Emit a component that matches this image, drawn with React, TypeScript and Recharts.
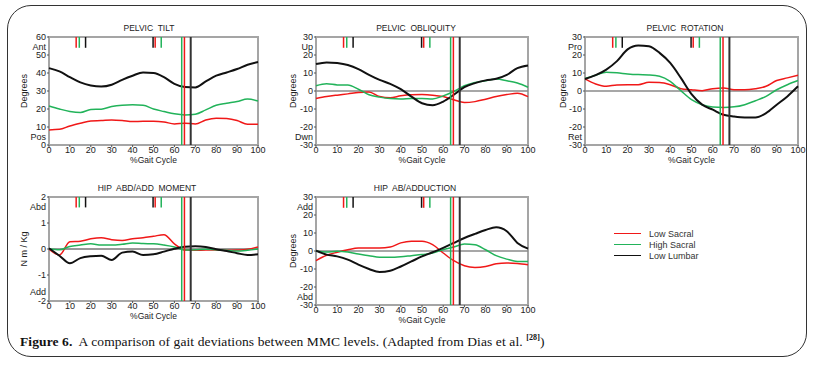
import React from "react";
import { LineChart, Line, XAxis, YAxis, ReferenceLine, ReferenceArea } from "recharts";

// % gait cycle sample points
const pct = [0, 5, 10, 15, 20, 25, 30, 35, 40, 45, 50, 55, 60, 65, 70, 75, 80, 85, 90, 95, 100];

// pelvic tilt
const tiltLowSacral = [8.4, 8.7, 10.6, 12.1, 13.4, 13.6, 13.9, 13.6, 13.0, 13.2, 13.2, 12.8, 11.7, 12.1, 11.7, 13.9, 14.9, 14.7, 13.6, 11.5, 11.5];
const tiltHighSacral = [21.7, 20.0, 18.6, 18.0, 19.7, 19.9, 21.4, 22.1, 22.3, 22.1, 20.0, 18.6, 17.3, 16.7, 17.1, 19.5, 22.1, 23.2, 24.2, 25.5, 24.5];
const tiltLowLumbar = [42.7, 40.9, 37.7, 34.8, 33.1, 32.5, 33.5, 36.2, 38.5, 40.3, 40.0, 37.7, 34.0, 32.2, 32.0, 35.3, 38.5, 40.3, 42.2, 44.6, 46.1];

// pelvic obliquity
const obliqLowSacral = [-4.2, -3.1, -2.3, -1.6, -0.8, -0.5, -3.1, -3.8, -2.7, -2.1, -2.0, -2.3, -3.1, -4.9, -6.4, -5.9, -4.6, -3.1, -2.0, -1.2, -3.1];
const obliqHighSacral = [2.9, 4.0, 3.4, 3.3, 1.0, -2.1, -3.4, -4.2, -4.4, -4.2, -4.2, -4.4, -2.7, -0.3, 2.9, 4.7, 5.7, 6.6, 5.7, 4.4, 2.1];
const obliqLowLumbar = [15.0, 15.9, 15.5, 14.4, 12.2, 9.0, 6.2, 4.0, 1.0, -3.1, -6.8, -7.9, -5.9, -2.1, 2.1, 4.4, 5.9, 6.8, 9.0, 12.7, 14.2];

// pelvic rotation
const rotLowSacral = [6.7, 3.9, 2.6, 3.4, 3.5, 3.5, 4.8, 4.7, 3.5, 1.3, 0.7, 0.2, 1.3, 1.7, 0.7, 0.7, 1.3, 2.6, 5.8, 7.3, 8.8];
const rotHighSacral = [6.9, 8.8, 10.4, 10.1, 9.5, 9.1, 8.9, 8.2, 5.4, 0.2, -4.8, -7.6, -8.9, -9.1, -8.8, -7.6, -5.4, -3.0, 0.7, 3.5, 5.8];
const rotLowLumbar = [6.7, 8.8, 11.9, 16.6, 23.1, 25.3, 24.8, 21.2, 15.6, 7.3, -1.7, -7.6, -10.4, -13.2, -14.2, -14.7, -14.7, -12.3, -7.6, -3.0, 2.6];

// hip abd/add moment
const momLowSacral = [-0.01, -0.23, 0.28, 0.3, 0.39, 0.43, 0.36, 0.33, 0.39, 0.43, 0.49, 0.55, 0.2, -0.04, -0.05, -0.04, -0.04, -0.05, -0.04, -0.01, 0.08];
const momHighSacral = [0.01, -0.03, 0.1, 0.15, 0.2, 0.15, 0.15, 0.18, 0.23, 0.21, 0.2, 0.15, 0.08, -0.04, -0.03, -0.01, -0.03, -0.05, -0.08, -0.05, 0.0];
const momLowLumbar = [0.03, -0.26, -0.55, -0.35, -0.28, -0.26, -0.42, -0.14, -0.1, -0.23, -0.2, -0.1, 0.01, 0.09, 0.11, 0.08, -0.01, -0.08, -0.16, -0.23, -0.2];

// hip ab/adduction
const hipLowSacral = [-5.4, -2.4, -0.7, 0.7, 1.7, 1.7, 1.7, 2.2, 4.5, 5.4, 5.4, 3.5, -1.1, -5.4, -8.2, -9.1, -8.6, -7.1, -6.7, -6.9, -7.6];
const hipHighSacral = [-0.2, -0.6, -0.2, -0.6, -1.7, -2.6, -3.5, -3.5, -3.2, -2.6, -2.0, -1.1, 0.7, 2.2, 3.9, 3.5, 0.7, -2.6, -4.5, -5.8, -5.8];
const hipLowLumbar = [0.2, -2.0, -3.0, -4.8, -7.6, -10.0, -11.7, -11.0, -8.6, -5.8, -3.0, -0.7, 1.7, 4.5, 7.2, 9.5, 11.7, 13.2, 11.0, 4.5, 1.3];

// gait events per group: low sacral, high sacral, low lumbar
const oppToeOff = [13, 14.5, 17.5];
const oppFootContact = [50.8, 53.7, 49.8];
const toeOff = [64.8, 63.5, 67.8];

const xTicks = [0, 10, 20, 30, 40, 50, 60, 70, 80, 90, 100];
const degTicks = [-30, -20, -10, 0, 10, 20, 30];
const tiltTicks = [0, 10, 20, 30, 40, 50, 60];
const momTicks = [-2, -1, 0, 1, 2];

const groups = ["Low Sacral", "High Sacral", "Low Lumbar"];
const COLORS = ["#f01818", "#22b35a", "#111111"];
const WIDTHS = [1.5, 1.5, 2];

const FONT = "Arial, 'Liberation Sans', sans-serif";

const rows = (a: number[], b: number[], c: number[]) =>
  pct.map((p, i) => ({ pct: p, ls: a[i], hs: b[i], ll: c[i] }));

type Extra = Record<number, [string, number]>;

const YTick = (props: any) => {
  const { x, y, payload, extra } = props;
  const e: [string, number] | undefined = extra[payload.value];
  return (
    <g>
      <text x={x} y={y} dy={3} textAnchor="end" fontSize={9} fill="#222" fontFamily={FONT}>
        {payload.value}
      </text>
      {e && (
        <text x={x} y={y + e[1]} dy={3} textAnchor="end" fontSize={9} fill="#222" fontFamily={FONT}>
          {e[0]}
        </text>
      )}
    </g>
  );
};

interface PanelProps {
  left: number;
  top: number;
  data: any[];
  domain: [number, number];
  ticks: number[];
  extra: Extra;
  yLabel: string;
  title: string;
  titleX: number;
  zeroLine: boolean;
}

const Panel = (p: PanelProps) => {
  const [lo, hi] = p.domain;
  const shortBottom = hi - (hi - lo) * 0.1;
  const keys = ["ls", "hs", "ll"];
  return (
    <div style={{ position: "absolute", left: p.left, top: p.top }}>
      <div
        style={{
          position: "absolute",
          left: p.titleX - 80,
          width: 160,
          top: 3,
          textAlign: "center",
          fontFamily: FONT,
          fontSize: 8.5,
          color: "#222",
          whiteSpace: "pre",
        }}
      >
        {p.title}
      </div>
      <LineChart width={270} height={hi === 2 ? 141 : 145} data={p.data} margin={{ top: 17, right: 12, left: 0, bottom: 0 }}>
        <XAxis
          dataKey="pct"
          type="number"
          domain={[0, 100]}
          ticks={xTicks}
          interval={0}
          axisLine={false}
          tickSize={2}
          tickMargin={0}
          tick={{ fontSize: 9, fill: "#222", fontFamily: FONT }}
          tickLine={{ stroke: "#555" }}
          height={20}
          label={{ value: "%Gait Cycle", position: "insideBottom", offset: 2, fontSize: 8.5, fill: "#222", fontFamily: FONT }}
        />
        <YAxis
          type="number"
          domain={p.domain}
          ticks={p.ticks}
          interval={0}
          axisLine={false}
          tickSize={2}
          tickMargin={1}
          tickLine={{ stroke: "#555" }}
          width={p.left === 540 ? 45 : p.left === 270 ? 46 : 49}
          tick={(t: any) => <YTick {...t} extra={p.extra} />}
          label={{
            value: p.yLabel,
            angle: -90,
            position: "insideLeft",
            offset: p.left === 0 ? 24 : 23,
            style: { textAnchor: "middle", fontSize: 9, fill: "#222", fontFamily: FONT },
          }}
        />
        {p.zeroLine && <ReferenceLine y={0} stroke={lo === -2 ? "#333" : "#8a8a8a"} strokeWidth={lo === -2 ? 1 : 1.5} />}
        {oppToeOff.map((x, i) => (
          <ReferenceLine key={"a" + i} segment={[{ x, y: hi }, { x, y: shortBottom }]} stroke={COLORS[i]} strokeWidth={1.5} />
        ))}
        {oppFootContact.map((x, i) => (
          <ReferenceLine key={"b" + i} segment={[{ x, y: hi }, { x, y: shortBottom }]} stroke={COLORS[i]} strokeWidth={1.5} />
        ))}
        {keys.map((k, i) => (
          <Line
            key={k}
            type="monotone"
            dataKey={k}
            stroke={COLORS[i]}
            strokeWidth={WIDTHS[i]}
            dot={false}
            activeDot={false}
            isAnimationActive={false}
          />
        ))}
        {toeOff.map((x, i) => (
          <ReferenceLine key={"c" + i} x={x} stroke={i === 2 ? "#333" : COLORS[i]} strokeWidth={i === 2 ? 2 : 1.5} />
        ))}
        <ReferenceArea x1={0} x2={100} y1={lo} y2={hi} fill="none" stroke="#a5a5a5" strokeWidth={2} />
      </LineChart>
    </div>
  );
};

const App = () => {
  return (
    <div style={{ position: "absolute", left: 0, top: 0, width: 820, height: 371, background: "#fff", overflow: "hidden" }}>
      <div
        style={{
          position: "absolute",
          left: 7,
          top: 5,
          width: 800,
          height: 352,
          border: "1.5px solid #333",
          borderRadius: 24,
          boxSizing: "border-box",
        }}
      />
      <Panel left={0} top={20} data={rows(tiltLowSacral, tiltHighSacral, tiltLowLumbar)} domain={[0, 60]} ticks={tiltTicks}
        extra={{ 60: ["Ant", 9.5], 10: ["Pos", 9.5] }} yLabel="Degrees" title="PELVIC  TILT" titleX={149} zeroLine={false} />
      <Panel left={270} top={20} data={rows(obliqLowSacral, obliqHighSacral, obliqLowLumbar)} domain={[-30, 30]} ticks={degTicks}
        extra={{ 30: ["Up", 9.5], [-20]: ["Dwn", 9.5] }} yLabel="Degrees" title="PELVIC  OBLIQUITY" titleX={146} zeroLine />
      <Panel left={540} top={20} data={rows(rotLowSacral, rotHighSacral, rotLowLumbar)} domain={[-30, 30]} ticks={degTicks}
        extra={{ 30: ["Pro", 9.5], [-20]: ["Ret", 9.5] }} yLabel="Degrees" title="PELVIC  ROTATION" titleX={145} zeroLine />
      <Panel left={0} top={180} data={rows(momLowSacral, momHighSacral, momLowLumbar)} domain={[-2, 2]} ticks={momTicks}
        extra={{ 2: ["Abd", 9.5], [-2]: ["Add", -9.5] }} yLabel="N m / Kg" title="HIP  ABD/ADD  MOMENT" titleX={147} zeroLine />
      <Panel left={270} top={180} data={rows(hipLowSacral, hipHighSacral, hipLowLumbar)} domain={[-30, 30]} ticks={degTicks}
        extra={{ 30: ["Add", 9.5], [-20]: ["Abd", 9.5] }} yLabel="Degrees" title="HIP  AB/ADDUCTION" titleX={145} zeroLine />

      <div style={{ position: "absolute", left: 614, top: 228, fontFamily: FONT, fontSize: 9, color: "#333" }}>
        {groups.map((g, i) => (
          <div key={g} style={{ display: "flex", alignItems: "center", height: 11 }}>
            <div style={{ width: 27, height: 0, borderTop: `1.5px solid ${COLORS[i]}`, marginRight: 8 }} />
            <span>{g}</span>
          </div>
        ))}
      </div>

      <div
        style={{
          position: "absolute",
          left: 20,
          top: 333,
          fontFamily: "'Liberation Serif', serif",
          fontSize: 13.5,
          letterSpacing: 0.1,
          color: "#111",
          whiteSpace: "nowrap",
        }}
      >
        <b>Figure 6.</b>&nbsp; A comparison of gait deviations between MMC levels. (Adapted from Dias et al.{" "}
        <sup style={{ fontSize: 8, fontWeight: "bold" }}>[28]</sup>)
      </div>
    </div>
  );
};

export default App;
